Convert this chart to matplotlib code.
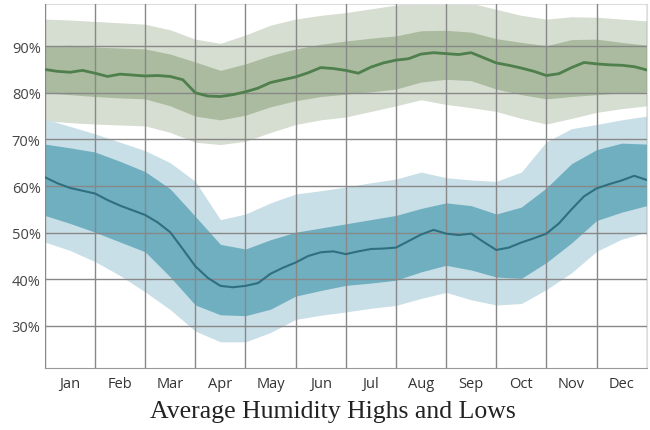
import numpy as np
import matplotlib
matplotlib.use('Agg')
import matplotlib.pyplot as plt

# x positions in months (0 = 1 Jan, 12 = 31 Dec)
meses = ['Jan', 'Feb', 'Mar', 'Apr', 'May', 'Jun', 'Jul', 'Aug', 'Sep', 'Oct', 'Nov', 'Dec']
x_q = np.arange(0, 12.01, 0.25)
x_h = np.arange(0, 12.01, 0.5)

# humedad alta (verde)
alta_media = [85.0, 84.6, 84.4, 84.8, 84.2, 83.5, 84.0, 83.8, 83.6, 83.7, 83.5, 82.8,
              80.0, 79.3, 79.2, 79.6, 80.2, 81.0, 82.2, 82.8, 83.4, 84.3, 85.4, 85.2,
              84.8, 84.2, 85.5, 86.4, 87.0, 87.3, 88.3, 88.6, 88.4, 88.2, 88.6, 87.5,
              86.4, 85.9, 85.3, 84.6, 83.7, 84.1, 85.4, 86.5, 86.2, 86.0, 85.9, 85.6, 84.9]
alta_p75 = [90.0, 90.2, 89.8, 89.6, 89.4, 88.3, 86.6, 84.8, 86.2, 88.0, 89.4, 90.4, 91.1,
            91.7, 92.2, 93.3, 93.4, 93.0, 91.6, 90.8, 90.1, 91.4, 91.5, 90.8, 90.2]
alta_p25 = [80.0, 79.6, 79.2, 78.9, 78.7, 77.2, 75.0, 74.2, 75.2, 77.0, 78.3, 79.2, 79.7,
            80.2, 80.8, 82.3, 82.9, 82.6, 80.8, 79.6, 78.7, 79.2, 79.6, 80.0, 80.1]
alta_p90 = [95.8, 95.6, 95.3, 95.0, 94.7, 93.5, 91.5, 90.6, 92.4, 94.5, 95.8, 96.6, 97.2,
            98.0, 98.8, 99.5, 99.5, 99.2, 97.9, 96.6, 95.8, 96.3, 96.2, 95.8, 95.4]
alta_p10 = [74.0, 73.6, 73.3, 73.1, 72.9, 71.5, 69.4, 68.9, 69.6, 71.5, 73.2, 74.2, 74.8,
            76.0, 77.2, 78.5, 77.5, 76.8, 76.0, 74.5, 73.3, 74.5, 75.8, 76.6, 77.2]

# humedad baja (azul)
baja_media = [61.9, 60.6, 59.6, 59.0, 58.4, 57.0, 55.8, 54.8, 53.8, 52.2, 50.1, 46.5,
              42.8, 40.3, 38.6, 38.3, 38.6, 39.2, 41.2, 42.5, 43.6, 45.0, 45.8, 46.0,
              45.4, 46.0, 46.5, 46.6, 46.8, 48.2, 49.6, 50.6, 49.8, 49.5, 49.8, 48.0,
              46.3, 46.8, 47.9, 48.8, 49.8, 52.0, 55.0, 57.8, 59.5, 60.4, 61.2, 62.2, 61.3]
baja_p75 = [69.0, 68.2, 67.3, 65.3, 63.1, 59.4, 53.5, 47.5, 46.5, 48.5, 50.1, 51.0, 51.9,
            52.8, 53.7, 55.2, 56.4, 55.8, 54.0, 55.5, 59.6, 64.8, 67.8, 69.2, 69.0]
baja_p25 = [53.7, 52.0, 50.1, 48.0, 45.9, 40.5, 34.5, 32.4, 32.2, 33.6, 36.4, 37.6, 38.7,
            39.2, 39.8, 41.6, 43.0, 42.0, 40.5, 40.2, 43.6, 47.8, 52.6, 54.4, 55.8]
baja_p90 = [74.4, 72.8, 71.2, 69.4, 67.6, 65.0, 61.0, 52.8, 54.0, 56.4, 58.3, 59.0, 59.8,
            60.7, 61.5, 63.0, 61.8, 61.3, 61.0, 63.0, 69.5, 72.3, 73.2, 74.2, 75.0]
baja_p10 = [48.0, 46.2, 43.8, 40.8, 37.3, 33.5, 28.9, 26.6, 26.6, 28.6, 31.4, 32.3, 33.0,
            33.8, 34.4, 35.9, 37.2, 35.6, 34.5, 34.8, 37.8, 41.4, 46.0, 48.6, 50.1]

fig = plt.figure(figsize=(6.5, 4.31), dpi=100)
ax = fig.add_axes([0.069, 0.144, 0.926, 0.844])

ax.fill_between(x_h, alta_p10, alta_p90, color='#d6ddd1', lw=0, zorder=1)
ax.fill_between(x_h, alta_p25, alta_p75, color='#aabb9f', lw=0, zorder=1.2)
ax.plot(x_q, alta_media, color='#4f7f4c', lw=2, zorder=3)

ax.fill_between(x_h, baja_p10, baja_p90, color='#c9dfe7', lw=0, zorder=1)
ax.fill_between(x_h, baja_p25, baja_p75, color='#70afc0', lw=0, zorder=1.2)
ax.plot(x_q, baja_media, color='#2e6f80', lw=1.5, zorder=3)

ax.set_xlim(0, 12)
ax.set_ylim(21, 99)
ax.set_xticks(np.arange(0, 13))
ax.set_xticklabels([])
ax.set_xticks(np.arange(0.5, 12, 1), minor=True)
ax.set_xticklabels(meses, minor=True, fontsize=10.5, color='#333333', family='Open Sans')
ax.set_yticks([30, 40, 50, 60, 70, 80, 90])
ax.set_yticklabels(['30%', '40%', '50%', '60%', '70%', '80%', '90%'],
                   fontsize=10.5, color='#444444', family='Open Sans')
ax.tick_params(axis='both', which='both', length=0, pad=6)
ax.tick_params(axis='y', pad=3)

ax.set_axisbelow(False)
ax.grid(True, which='major', color='#888888', lw=1, zorder=2.5)
for lado in ['top', 'right', 'left']:
    ax.spines[lado].set_color('#dddddd')
ax.spines['bottom'].set_color('#999999')

fig.text(0.512, 0.044, 'Average Humidity Highs and Lows', ha='center', va='center',
         family='Liberation Serif', fontsize=18.5, color='#222222')

fig.savefig('out.png', dpi=100)
